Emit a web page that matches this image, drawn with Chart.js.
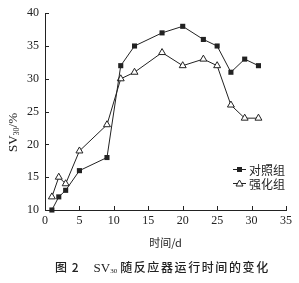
<!DOCTYPE html>
<html>
<head>
<meta charset="utf-8">
<style>
  html, body { margin: 0; padding: 0; background: #fff; }
  #wrap { width: 299px; height: 283px; position: relative; }
</style>
<script src="https://cdn.jsdelivr.net/npm/chart.js@4.4.0/dist/chart.umd.min.js"></script>
</head>
<body>
<div id="wrap"><canvas id="myChart" width="299" height="283"></canvas></div>
<script>
// 运行时间 (d)
const days = [1, 2, 3, 5, 9, 11, 13, 17, 20, 23, 25, 27, 29, 31];
// SV30 (%)
const controlGroup = [10, 12, 13, 16, 18, 32, 35, 37, 38, 36, 35, 31, 33, 32];
const enhancedGroup = [12, 15, 14, 19, 23, 30, 31, 34, 32, 33, 32, 26, 24, 24];
const seriesNames = ['对照组', '强化组'];
const xTicks = [0, 5, 10, 15, 20, 25, 30, 35];
const yTicks = [10, 15, 20, 25, 30, 35, 40];

const ink = '#222';
const serif = "'Liberation Serif', 'DejaVu Serif', serif";
const cjk = "'Noto Sans CJK SC', sans-serif";

function toPoints(xs, ys) {
    return xs.map((x, i) => ({ x: x, y: ys[i] }));
}

// draw a run of text pieces left to right, returns end x
function runText(c, x, y, parts) {
    parts.forEach(p => {
        c.font = p.font;
        if ('letterSpacing' in c) c.letterSpacing = p.sp || '0px';
        c.fillText(p.t, x, y + (p.dy || 0));
        x += c.measureText(p.t).width + (p.gap || 0);
    });
    return x;
}

// 刻度线朝内 + 图例 + 坐标标题 + 图题
const extras = {
    id: 'extras',
    afterDraw(chart) {
        const c = chart.ctx;
        const xs = chart.scales.x, ys = chart.scales.y;
        const area = chart.chartArea;
        c.save();
        c.strokeStyle = ink;
        c.lineWidth = 1;
        c.beginPath();
        xTicks.forEach(v => {
            if (v === xTicks[0]) return;
            const px = Math.round(xs.getPixelForValue(v)) + 0.5;
            c.moveTo(px, area.bottom);
            c.lineTo(px, area.bottom - 4);
        });
        yTicks.forEach(v => {
            if (v === yTicks[0]) return;
            const py = Math.round(ys.getPixelForValue(v)) + 0.5;
            c.moveTo(area.left, py);
            c.lineTo(area.left + 4, py);
        });
        c.stroke();

        // legend
        const ds = chart.data.datasets;
        const lx = 233, ly = [169, 183];
        ds.forEach((d, i) => {
            const y = ly[i];
            c.beginPath();
            c.moveTo(lx, y + 0.5);
            c.lineTo(lx + 13, y + 0.5);
            c.strokeStyle = ink;
            c.stroke();
            const cx = lx + 6.5;
            if (d.pointStyle === 'rect') {
                c.fillStyle = ink;
                c.fillRect(cx - 2.5, y - 2, 5, 5);
            } else {
                c.beginPath();
                c.moveTo(cx, y - 3);
                c.lineTo(cx + 3.5, y + 3);
                c.lineTo(cx - 3.5, y + 3);
                c.closePath();
                c.fillStyle = '#fff';
                c.fill();
                c.stroke();
            }
            c.fillStyle = ink;
            c.font = '12px ' + cjk;
            c.textAlign = 'left';
            c.textBaseline = 'middle';
            c.fillText(seriesNames[i], lx + 16, y + 1);
        });

        c.fillStyle = ink;
        c.textAlign = 'left';
        c.textBaseline = 'alphabetic';

        // y axis title, rotated
        c.save();
        c.translate(17, 152);
        c.rotate(-Math.PI / 2);
        runText(c, 0, 0, [
            { t: 'SV', font: '13px ' + serif },
            { t: '30', font: '8px ' + serif, dy: 2 },
            { t: '/%', font: '13px ' + serif }
        ]);
        c.restore();

        // caption
        runText(c, 55, 272, [
            { t: '图 2', font: '500 12px ' + cjk, sp: '1px', gap: 14 },
            { t: 'SV', font: '13px ' + serif },
            { t: '30', font: '7px ' + serif, dy: 1, gap: 3 },
            { t: '随反应器运行时间的变化', font: '500 12px ' + cjk, sp: '1.6px' }
        ]);
        c.restore();
    }
};

const ctx = document.querySelector('#myChart').getContext('2d');
const myChart = new Chart(ctx, {
    type: 'line',
    data: {
        datasets: [{
            label: seriesNames[0],
            data: toPoints(days, controlGroup),
            borderColor: ink,
            backgroundColor: ink,
            borderWidth: 1,
            pointStyle: 'rect',
            pointRadius: 3.6,
            pointBorderWidth: 0,
            tension: 0,
            clip: false
        }, {
            label: seriesNames[1],
            data: toPoints(days, enhancedGroup),
            borderColor: ink,
            backgroundColor: '#fff',
            borderWidth: 1,
            pointStyle: 'triangle',
            pointRadius: 4,
            pointBorderWidth: 1,
            tension: 0,
            clip: false
        }]
    },
    options: {
        responsive: false,
        animation: false,
        layout: { padding: { left: 0, top: 10, right: 13, bottom: 27 } },
        plugins: {
            legend: { display: false },
            tooltip: { enabled: false }
        },
        scales: {
            x: {
                type: 'linear',
                min: 0,
                max: 35,
                afterBuildTicks: (s) => { s.ticks = xTicks.map(v => ({ value: v })); },
                afterFit: (s) => { s.height = 46; },
                grid: { drawOnChartArea: false, drawTicks: false },
                border: { display: true, color: ink, width: 1 },
                ticks: { color: ink, padding: 4, font: { family: serif, size: 12 }, maxRotation: 0 },
                title: {
                    display: true,
                    text: '时间/d',
                    color: ink,
                    font: { family: cjk, size: 11 },
                    padding: { top: 0, bottom: 7 }
                }
            },
            y: {
                min: 10,
                max: 40,
                afterBuildTicks: (s) => { s.ticks = yTicks.map(v => ({ value: v })); },
                afterFit: (s) => { s.width = 45; },
                grid: { drawOnChartArea: false, drawTicks: false },
                border: { display: true, color: ink, width: 1 },
                ticks: { color: ink, padding: 6, font: { family: serif, size: 12 } },
                title: { display: false }
            }
        }
    },
    plugins: [extras]
});
</script>
</body>
</html>
